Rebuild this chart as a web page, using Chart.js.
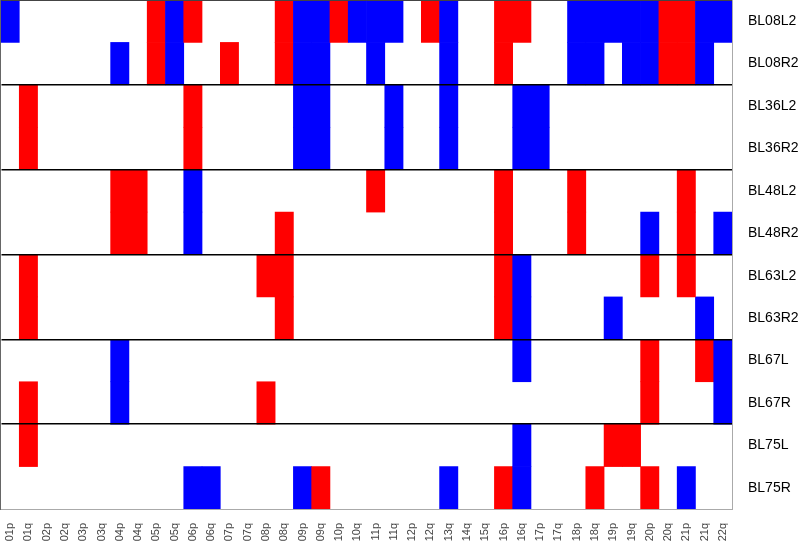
<!DOCTYPE html>
<html>
<head>
<meta charset="utf-8">
<script src="https://cdn.jsdelivr.net/npm/chart.js@4.4.1/dist/chart.umd.min.js"></script>
<style>
  html, body { margin: 0; padding: 0; background: #fff; }
  #wrap { width: 800px; height: 545px; }
</style>
</head>
<body>
<div id="wrap"><canvas id="heat"></canvas></div>
<script>
// columnas (faltan 13p, 14p, 15p y 22p en el original)
const cols = ['01p','01q','02p','02q','03p','03q','04p','04q','05p','05q',
  '06p','06q','07p','07q','08p','08q','09p','09q','10p','10q',
  '11p','11q','12p','12q','13q','14q','15q','16p','16q','17p',
  '17q','18p','18q','19p','19q','20p','20q','21p','21q','22q'];

const rows = ['BL08L2','BL08R2','BL36L2','BL36R2','BL48L2','BL48R2',
  'BL63L2','BL63R2','BL67L','BL67R','BL75L','BL75R'];

// 1 = rojo, -1 = azul, 0 = vacío
const BL08L2 = [-1,0,0,0,0,0,0,0,1,-1, 1,0,0,0,0,1,-1,-1,1,-1, -1,-1,0,1,-1,0,0,1,1,0, 0,-1,-1,-1,-1,-1,1,1,-1,-1];
const BL08R2 = [0,0,0,0,0,0,-1,0,1,-1, 0,0,1,0,0,1,-1,-1,0,0, -1,0,0,0,-1,0,0,1,0,0, 0,-1,-1,0,-1,-1,1,1,-1,0];
const BL36L2 = [0,1,0,0,0,0,0,0,0,0, 1,0,0,0,0,0,-1,-1,0,0, 0,-1,0,0,-1,0,0,0,-1,-1, 0,0,0,0,0,0,0,0,0,0];
const BL36R2 = [0,1,0,0,0,0,0,0,0,0, 1,0,0,0,0,0,-1,-1,0,0, 0,-1,0,0,-1,0,0,0,-1,-1, 0,0,0,0,0,0,0,0,0,0];
const BL48L2 = [0,0,0,0,0,0,1,1,0,0, -1,0,0,0,0,0,0,0,0,0, 1,0,0,0,0,0,0,1,0,0, 0,1,0,0,0,0,0,1,0,0];
const BL48R2 = [0,0,0,0,0,0,1,1,0,0, -1,0,0,0,0,1,0,0,0,0, 0,0,0,0,0,0,0,1,0,0, 0,1,0,0,0,-1,0,1,0,-1];
const BL63L2 = [0,1,0,0,0,0,0,0,0,0, 0,0,0,0,1,1,0,0,0,0, 0,0,0,0,0,0,0,1,-1,0, 0,0,0,0,0,1,0,1,0,0];
const BL63R2 = [0,1,0,0,0,0,0,0,0,0, 0,0,0,0,0,1,0,0,0,0, 0,0,0,0,0,0,0,1,-1,0, 0,0,0,-1,0,0,0,0,-1,0];
const BL67L  = [0,0,0,0,0,0,-1,0,0,0, 0,0,0,0,0,0,0,0,0,0, 0,0,0,0,0,0,0,0,-1,0, 0,0,0,0,0,1,0,0,1,-1];
const BL67R  = [0,1,0,0,0,0,-1,0,0,0, 0,0,0,0,1,0,0,0,0,0, 0,0,0,0,0,0,0,0,0,0, 0,0,0,0,0,1,0,0,0,-1];
const BL75L  = [0,1,0,0,0,0,0,0,0,0, 0,0,0,0,0,0,0,0,0,0, 0,0,0,0,0,0,0,0,-1,0, 0,0,0,1,1,0,0,0,0,0];
const BL75R  = [0,0,0,0,0,0,0,0,0,0, -1,-1,0,0,0,0,-1,1,0,0, 0,0,0,0,-1,0,0,1,-1,0, 0,0,1,0,0,1,0,-1,0,0];

const values = [BL08L2, BL08R2, BL36L2, BL36R2, BL48L2, BL48R2,
  BL63L2, BL63R2, BL67L, BL67R, BL75L, BL75R];

const red = '#ff0000';
const blue = '#0000ff';

// cada fila = un dataset de barras flotantes [r, r+1]
const datasets = values.map((vals, r) => ({
  label: rows[r],
  data: vals.map((v) => (v ? [r, r + 1] : null)),
  backgroundColor: vals.map((v) => (v > 0 ? red : blue)),
  borderWidth: 0,
  barPercentage: 1,
  categoryPercentage: 1,
  grouped: false,
}));

// sin padding automático arriba/abajo
const noPad = (s) => { s.paddingTop = 0; s.paddingBottom = 0; };

new Chart(document.getElementById('heat'), {
  type: 'bar',
  data: { labels: cols, datasets },
  options: {
    responsive: true, maintainAspectRatio: false,
    animation: false,
    layout: { padding: 0 },
    plugins: { legend: { display: false }, tooltip: { enabled: false } },
    scales: {
      x: {
        type: 'category',
        grid: { display: false },
        border: { color: '#aaaaaa', width: 1 },
        ticks: {
          autoSkip: false, minRotation: 90, maxRotation: 90, padding: 6,
          color: '#444', font: { family: 'Liberation Sans, Arial, sans-serif', size: 11 },
        },
        afterFit: (s) => { s.height = 36; s.paddingLeft = 0; s.paddingRight = 0; },
      },
      y: {
        type: 'linear', min: 0, max: 12, reverse: true, position: 'right',
        grid: { display: false },
        border: { color: '#aaaaaa', width: 1 },
        afterBuildTicks: (s) => { s.ticks = rows.map((_, i) => ({ value: i + 0.5 })); },
        ticks: {
          autoSkip: false, padding: 8, color: '#000',
          font: { family: 'Liberation Sans, Arial, sans-serif', size: 14 },
          callback: (v) => rows[Math.floor(v)],
        },
        afterFit: (s) => { s.width = 68; noPad(s); },
      },
      y2: {
        type: 'linear', min: 0, max: 12, reverse: true, position: 'left',
        afterBuildTicks: (s) => { s.ticks = [0, 2, 4, 6, 8, 10, 12].map((v) => ({ value: v })); },
        ticks: { display: false },
        grid: {
          drawTicks: false, z: 1,
          color: (c) => (c.tick && c.tick.value === 12 ? '#aaaaaa' : c.tick && c.tick.value === 0 ? '#444444' : '#000000'),
          lineWidth: (c) => (c.tick && (c.tick.value === 0 || c.tick.value === 12) ? 1 : 1.6),
        },
        border: { color: '#333333', width: 1.5 },
        afterFit: (s) => { s.width = 1; noPad(s); },
      },
    },
  },
});
</script>
</body>
</html>
